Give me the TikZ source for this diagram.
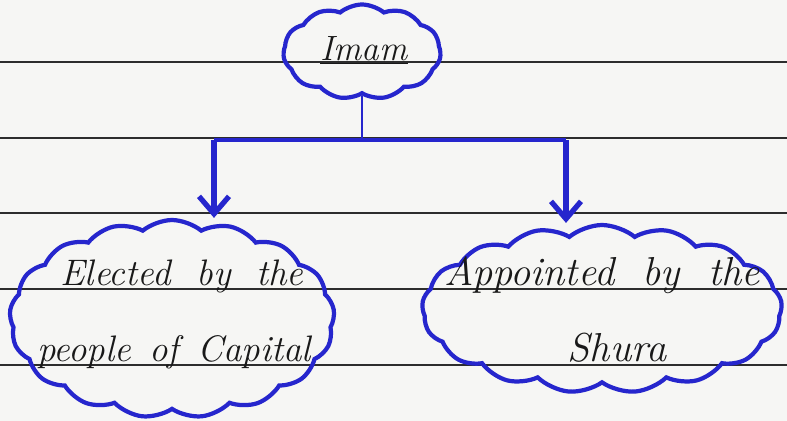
\documentclass[tikz,border=0pt]{standalone}
\usepackage{xcolor}
\usepackage{tikz}
\usetikzlibrary{shapes.symbols, arrows.meta, positioning, calc}
\definecolor{inkblue}{RGB}{38, 38, 205}
\definecolor{pencolor}{RGB}{25, 25, 25}
\definecolor{papercolor}{RGB}{246, 246, 244}
\definecolor{rulecolor}{RGB}{45, 45, 45}

\begin{document}
\begin{tikzpicture}[x=0.02cm, y=-0.02cm,
    bubble/.style={cloud, draw=inkblue, line width=2.4pt, inner sep=0pt, cloud puff arc=80},
    handtext/.style={align=center, text=pencolor, inner sep=0pt},
    branch/.style={inkblue, line width=3pt, -{Straight Barb[length=3.5mm, width=6mm]}}]
    % Paper
    \fill[papercolor] (0,0) rectangle (787,421);
    \useasboundingbox (0,0) rectangle (787,421);
    \foreach \y in {62, 138, 213, 289, 365}
        \draw[rulecolor, line width=1.1pt] (0,\y) -- (787,\y);

    % Clouds
    \node[bubble, cloud puffs=11, minimum width=3.15cm, minimum height=1.9cm] (imam) at (362,52) {};
    \node[bubble, cloud puffs=17, minimum width=6.5cm, minimum height=3.96cm] (elected) at (172,319) {};
    \node[bubble, cloud puffs=17, minimum width=7.2cm, minimum height=3.36cm] (appointed) at (602,309) {};

    % Texts
    \node[handtext, font=\fontsize{20}{20}\selectfont\itshape, anchor=base] (imamtext)
          at (364,61) {\underline{Imam}};
    \node[handtext, font=\fontsize{21}{43}\selectfont\itshape, anchor=base] (electedtext1)
          at (182,286) {Elected\ \ by\ \ the};
    \node[handtext, font=\fontsize{21}{43}\selectfont\itshape, anchor=base] (electedtext2)
          at (174,362) {people\enspace of\enspace Capital};
    \node[handtext, font=\fontsize{23}{43}\selectfont\itshape, anchor=base] (appointedtext1)
          at (602,286) {Appointed\ \ by\ \ the};
    \node[handtext, font=\fontsize{23}{43}\selectfont\itshape, anchor=base] (appointedtext2)
          at (617,362) {Shura};

    % Connectors
    \coordinate (split) at (imam.south |- 0,140);
    \coordinate (lefttop) at (214,140);
    \coordinate (righttop) at (566,140);
    \draw[inkblue, line width=1.2pt] (imam.south) -- (split);
    \draw[inkblue, line width=2pt] (lefttop) -- (righttop);
    \draw[branch] (lefttop) -- (lefttop |- elected.north);
    \draw[branch] (righttop) -- (righttop |- appointed.north);
\end{tikzpicture}
\end{document}
